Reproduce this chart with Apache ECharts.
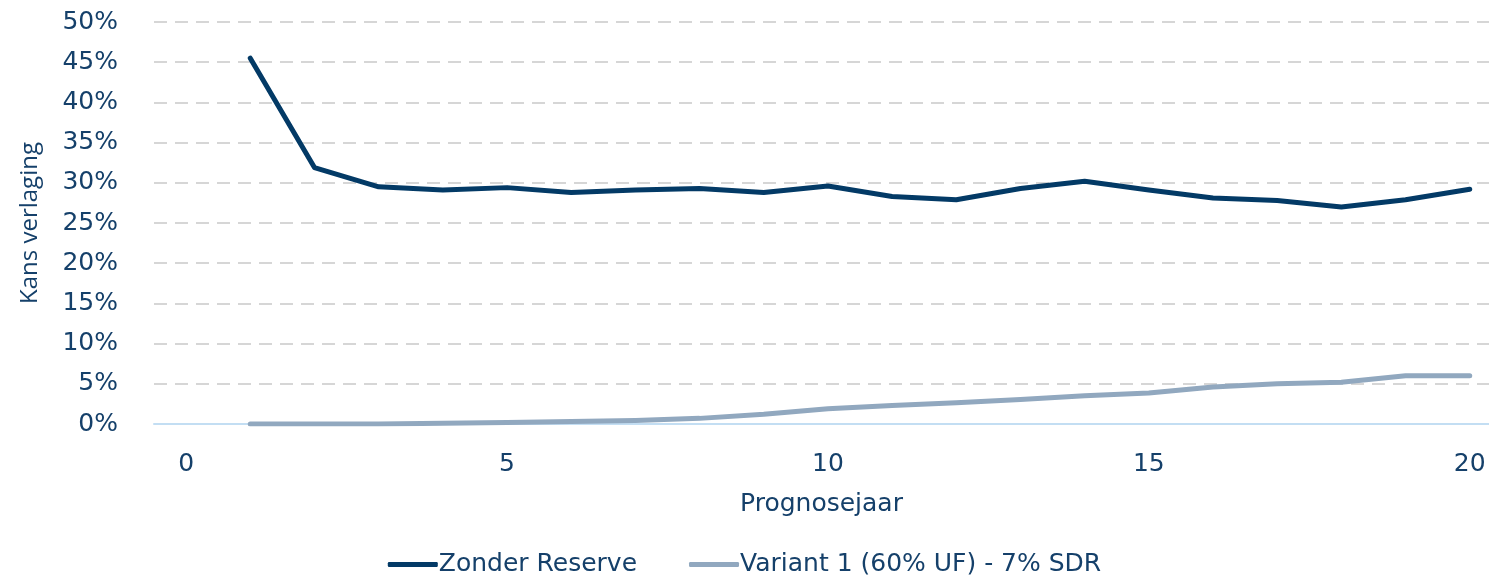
<!DOCTYPE html>
<html>
<head>
    <meta charset="utf-8">
    <title>Kans verlaging</title>
    <script src="https://cdn.jsdelivr.net/npm/echarts@6/dist/echarts.min.js"></script>
</head>
<body style='background-color: #ffffff;margin:0px;'>
    <div id="main" style="width: 1489px;height:575px;"></div>
    <script type="text/javascript">
        // prognosejaar 1..20
        var jaren = [1, 2, 3, 4, 5, 6, 7, 8, 9, 10, 11, 12, 13, 14, 15, 16, 17, 18, 19, 20];
        var zonderReserve = [45.5, 31.9, 29.5, 29.1, 29.4, 28.8, 29.1, 29.3, 28.8, 29.6, 28.3, 27.9, 29.3, 30.2, 29.1, 28.1, 27.8, 27.0, 27.9, 29.2];
        var variant1 = [0, 0, 0, 0.1, 0.2, 0.3, 0.45, 0.7, 1.2, 1.9, 2.3, 2.65, 3.05, 3.5, 3.85, 4.6, 5.0, 5.2, 6.0, 6.0];
        var xLabels = [0, 5, 10, 15, 20];

        var donker = '#033a66';
        var licht = '#91a8bf';
        var tekst = '#15406a';
        var font = 'DejaVu Sans';

        function paren(ys) {
            return jaren.map(function (j, i) { return [j, ys[i]]; });
        }

        var myChart = echarts.init(document.getElementById('main'));
        var option = {
            animation: false,
            grid: { left: 154, top: 22, right: 0, bottom: 151, containLabel: false },
            legend: {
                bottom: -7,
                left: 'center',
                icon: 'roundRect',
                itemWidth: 50,
                itemHeight: 5,
                itemGap: 52,
                textStyle: { fontFamily: font, fontSize: 25, color: tekst, padding: [0, 0, 0, -4] },
                data: ['Zonder Reserve', 'Variant 1 (60% UF) - 7% SDR']
            },
            xAxis: {
                type: 'value',
                min: -0.5,
                max: 20.3,
                name: 'Prognosejaar',
                nameLocation: 'middle',
                nameGap: 68,
                nameTextStyle: { fontFamily: font, fontSize: 25, color: tekst },
                axisLine: { onZero: false, lineStyle: { color: '#c3def3', width: 2 } },
                axisTick: { show: false },
                splitLine: { show: false },
                axisLabel: {
                    customValues: xLabels,
                    margin: 28,
                    fontFamily: font, fontSize: 25, color: tekst
                }
            },
            yAxis: {
                type: 'value',
                min: 0,
                max: 50,
                interval: 5,
                name: 'Kans verlaging',
                nameLocation: 'middle',
                nameGap: 112,
                nameTextStyle: { fontFamily: 'Open Sans', fontSize: 24, color: tekst },
                axisLine: { show: false },
                axisTick: { show: false },
                axisLabel: {
                    formatter: '{value}%',
                    margin: 36,
                    fontFamily: font, fontSize: 25, color: tekst
                },
                splitLine: { lineStyle: { color: '#d6d6d6', width: 2, type: [13, 8] } }
            },
            series: [
                {
                    name: 'Zonder Reserve',
                    type: 'line',
                    data: paren(zonderReserve),
                    symbol: 'none',
                    color: donker,
                    lineStyle: { width: 5, color: donker, cap: 'round', join: 'round' }
                },
                {
                    name: 'Variant 1 (60% UF) - 7% SDR',
                    type: 'line',
                    data: paren(variant1),
                    symbol: 'none',
                    color: licht,
                    lineStyle: { width: 5, color: licht, cap: 'round', join: 'round' }
                }
            ]
        };
        myChart.setOption(option);
    </script>
</body>
</html>
